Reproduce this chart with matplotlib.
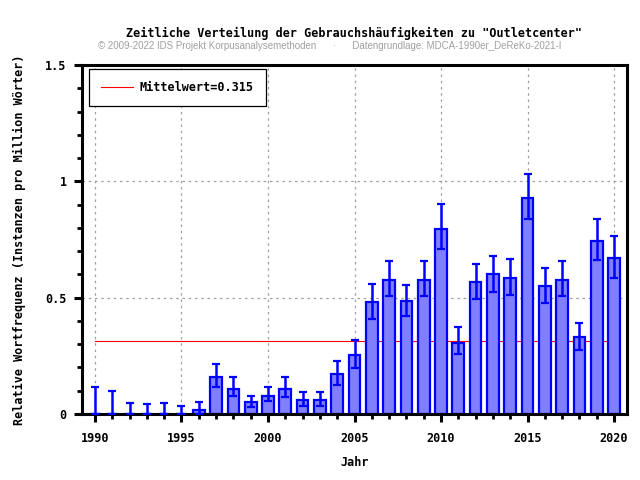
import matplotlib
matplotlib.use("Agg")
import matplotlib.pyplot as plt
from matplotlib.ticker import MultipleLocator

years = list(range(1990, 2021))
freq = [0, 0, 0, 0, 0, 0, 0.019, 0.157, 0.109, 0.050, 0.079, 0.109, 0.059, 0.059,
        0.170, 0.252, 0.480, 0.575, 0.484, 0.575, 0.797, 0.307, 0.566, 0.601,
        0.583, 0.928, 0.549, 0.575, 0.329, 0.743, 0.669]
err_hi = [0.118, 0.099, 0.049, 0.044, 0.049, 0.036, 0.053, 0.213, 0.157, 0.079, 0.118,
          0.157, 0.096, 0.096, 0.229, 0.317, 0.560, 0.657, 0.556, 0.657, 0.902, 0.372,
          0.644, 0.681, 0.665, 1.030, 0.626, 0.657, 0.392, 0.836, 0.767]
err_lo = [0, 0, 0, 0, 0, 0, 0, 0.118, 0.079, 0.030, 0.055, 0.075, 0.034, 0.034,
          0.125, 0.198, 0.409, 0.506, 0.420, 0.506, 0.711, 0.256, 0.496, 0.526,
          0.510, 0.836, 0.478, 0.506, 0.276, 0.661, 0.583]
mean_val = 0.315

mono = "DejaVu Sans Mono"

fig = plt.figure(figsize=(6.4, 4.8), dpi=100)
ax = fig.add_axes([82/640, 1 - 414/480, (627-82)/640, (414-65)/480])

ax.plot([1990, 2020], [mean_val, mean_val], color="red", lw=0.8, zorder=1,
        label="Mittelwert=%.3f" % mean_val)

ax.bar(years, freq, width=0.68, color="#8080ff", edgecolor="#0000ff", linewidth=1.6, zorder=2)
yerr = [[f - l for f, l in zip(freq, err_lo)], [h - f for f, h in zip(freq, err_hi)]]
ax.errorbar(years, freq, yerr=yerr, fmt="none", ecolor="#0000ff", elinewidth=1.8,
            capsize=3, capthick=1.6, zorder=3)

ax.set_xlim(1989.25, 2020.75)
ax.set_ylim(0, 1.5)
ax.xaxis.set_major_locator(MultipleLocator(5))
ax.xaxis.set_minor_locator(MultipleLocator(1))
ax.yaxis.set_minor_locator(MultipleLocator(0.1))
ax.set_yticks([0, 0.5, 1, 1.5])
ax.set_yticklabels(["0", "0.5", "1", "1.5"])

for s in ax.spines.values():
    s.set_linewidth(2.2)
ax.tick_params(which="major", direction="out", length=6, width=2.2,
               top=False, right=False, labelsize=8.5)
ax.tick_params(which="minor", direction="out", length=3.5, width=2,
               top=False, right=False)
ax.tick_params(axis="x", which="major", pad=7)
ax.tick_params(axis="y", which="major", pad=5)
for lab in ax.get_xticklabels() + ax.get_yticklabels():
    lab.set_fontfamily(mono)
    lab.set_fontweight("bold")

ax.grid(True, which="major", color="#a0a0a0", linestyle=(0, (2, 3)), linewidth=0.9, zorder=0)
ax.set_axisbelow(True)

ax.set_xlabel("Jahr", family=mono, fontweight="bold", fontsize=8.5, va="center")
ax.set_ylabel("Relative Wortfrequenz (Instanzen pro Million Wörter)", family=mono,
              fontweight="bold", fontsize=8.5, va="center")
ax.xaxis.set_label_coords(0.5, (414 - 462) / 349)
ax.yaxis.set_label_coords((19 - 82) / 545, 0.5)

leg = ax.legend(loc="upper left", prop={"family": mono, "weight": "bold", "size": 8.5},
                fancybox=False, edgecolor="black", framealpha=1, borderpad=1.0,
                handlelength=2.7, handletextpad=0.6,
                bbox_to_anchor=(7/545, 1 - 4/349), borderaxespad=0)
leg.get_frame().set_linewidth(0.9)

fig.text(354/640, 1 - 33/480, 'Zeitliche Verteilung der Gebrauchshäufigkeiten zu "Outletcenter"',
         ha="center", va="center", family=mono, fontweight="bold", fontsize=8.5)
fig.text(330/640, 1 - 46/480,
         "© 2009-2022 IDS Projekt Korpusanalysemethoden      ·      Datengrundlage: MDCA-1990er_DeReKo-2021-I",
         ha="center", va="center", family="Liberation Sans", fontsize=7, color="#a0a0a0")

fig.savefig("out.png", dpi=100)
